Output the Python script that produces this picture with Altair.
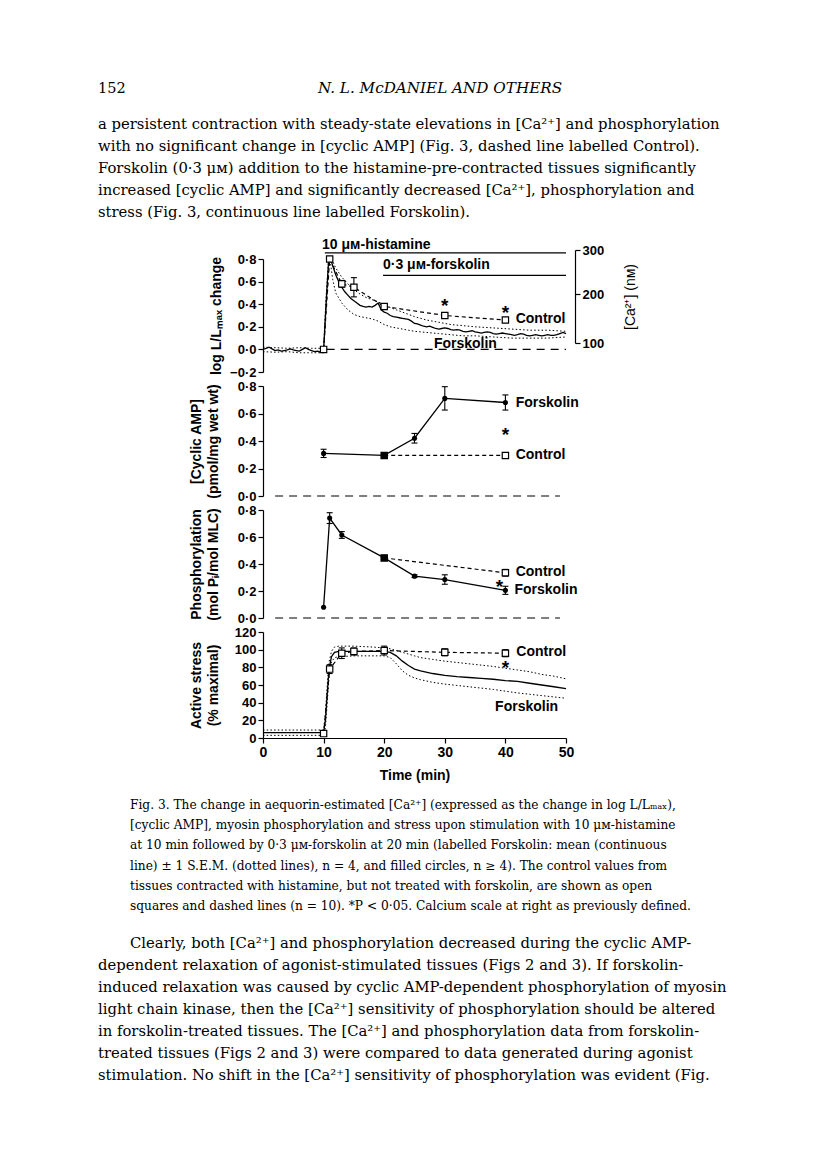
import altair as alt
import pandas as pd

# ------------------------------------------------------------------ data
time_ticks = [0, 10, 20, 30, 40, 50]

# Panel 1: aequorin light, log L/Lmax change (forskolin mean trace +/- SEM)
ca_t = [0, 0.5, 1, 1.5, 2, 2.5, 3, 3.5, 4, 4.5, 5, 5.5, 6, 6.5, 7, 7.5, 8, 8.5, 9, 9.5, 10,
        10.4, 10.8, 11.1,
        11.5, 12, 12.5, 13, 13.5, 14, 14.5, 15, 15.5, 16, 16.5, 17, 17.5, 18, 18.5, 19, 19.5,
        20, 20.5, 21, 21.5, 22, 22.5, 23, 23.5, 24, 24.5, 25, 25.5, 26, 26.5, 27, 27.5, 28, 28.5, 29, 29.5,
        30, 30.5, 31, 31.5, 32, 32.5, 33, 33.5, 34, 34.5, 35, 35.5, 36, 36.5, 37, 37.5, 38, 38.5, 39, 39.5,
        40, 40.5, 41, 41.5, 42, 42.5, 43, 43.5, 44, 44.5, 45, 45.5, 46, 46.5, 47, 47.5, 48, 48.5, 49, 49.5, 50]
ca_mean = [0.00, 0.01, 0.02, 0.005, -0.01, -0.005, -0.015, -0.01, -0.005, 0.005,
           -0.005, -0.01, -0.015, 0.0, 0.015, 0.0, -0.01, -0.02, -0.015, -0.025, -0.01,
           0.40, 0.76, 0.81,
           0.74, 0.66, 0.60, 0.55, 0.51, 0.48, 0.45, 0.43, 0.41, 0.39, 0.38, 0.375, 0.38, 0.375, 0.39, 0.41, 0.35,
           0.33, 0.32, 0.30, 0.29, 0.285, 0.28, 0.275, 0.27, 0.265, 0.25,
           0.23, 0.225, 0.215, 0.205, 0.20, 0.205, 0.195, 0.185, 0.18, 0.185,
           0.19, 0.185, 0.175, 0.17, 0.175, 0.17, 0.16, 0.155, 0.16, 0.165,
           0.155, 0.15, 0.145, 0.15, 0.155, 0.15, 0.14, 0.135, 0.14, 0.145,
           0.14, 0.135, 0.13, 0.125, 0.13, 0.14, 0.135, 0.125, 0.12, 0.125,
           0.13, 0.125, 0.12, 0.125, 0.13, 0.125, 0.125, 0.13, 0.14, 0.15, 0.14]
ca_sem_t = [0, 2, 4, 6, 8, 10, 10.4, 10.8, 11.1, 11.5, 12, 13, 14, 15, 16, 17, 18, 19, 20,
            21, 22, 23, 24, 25, 27, 29, 31, 33, 35, 38, 41, 44, 47, 50]
ca_sem_hi = [0.02, 0.015, 0.01, 0.015, 0.01, 0.01, 0.45, 0.79, 0.82, 0.78, 0.72, 0.64, 0.58, 0.53,
             0.49, 0.46, 0.44, 0.42, 0.40, 0.37, 0.35, 0.33, 0.31, 0.29, 0.26, 0.24, 0.22, 0.21,
             0.20, 0.19, 0.18, 0.17, 0.17, 0.16]
ca_sem_lo = [-0.02, -0.025, -0.02, -0.03, -0.03, -0.03, 0.35, 0.70, 0.78, 0.62, 0.50, 0.41, 0.35,
             0.31, 0.29, 0.28, 0.27, 0.25, 0.22, 0.20, 0.19, 0.18, 0.17, 0.16, 0.15, 0.14, 0.13,
             0.12, 0.12, 0.11, 0.10, 0.10, 0.10, 0.11]
ca_ctl_t = [10, 11, 13, 15, 20, 30, 40]
ca_ctl_v = [0.0, 0.8, 0.58, 0.55, 0.38, 0.30, 0.26]
ca_ctl_err = [0, 0, 0.03, 0.085, 0.015, 0, 0]
ca_star_t = [30, 40]
ca_star_v = [0.43, 0.37]
ca_nm_ticks = [100, 200, 300]

# Panel 2: [cyclic AMP] (pmol/mg wet wt)
cyc_fsk_t = [10, 20, 25, 30, 40]
cyc_fsk_v = [0.31, 0.295, 0.42, 0.71, 0.68]
cyc_fsk_err = [0.03, 0.01, 0.035, 0.085, 0.055]
cyc_ctl_t = [20, 40]
cyc_ctl_v = [0.295, 0.295]
cyc_star_t = [40]
cyc_star_v = [0.48]

# Panel 3: phosphorylation (mol Pi/mol MLC)
ph_fsk_t = [10, 11, 13, 20, 25, 30, 40]
ph_fsk_v = [0.08, 0.74, 0.615, 0.445, 0.31, 0.285, 0.205]
ph_fsk_err = [0, 0.04, 0.025, 0.01, 0.01, 0.035, 0.03]
ph_ctl_t = [20, 40]
ph_ctl_v = [0.445, 0.335]
ph_ctl_err = [0, 0.025]
ph_star_t = [39]
ph_star_v = [0.27]

# Panel 4: active stress (% maximal)
st_t = [0, 10, 10.3, 10.6, 10.9, 11.3, 11.8, 12.5, 15, 18, 20, 21, 22, 23, 24, 25, 26, 28, 30,
        32, 34, 36, 38, 40, 42, 44, 46, 48, 50]
st_mean = [6, 6, 20, 50, 78, 92, 97, 98, 98, 98, 98, 97, 93, 87, 82, 78, 76, 73, 71,
           69.5, 68.5, 67.5, 66.5, 65, 64, 62, 60, 58, 56]
st_hi = [9, 9, 28, 60, 86, 98, 103, 104, 104, 103, 102, 101, 99, 97, 95, 93, 91, 89, 87,
         85.5, 84, 82.5, 81, 79, 77, 75, 72, 70, 67]
st_lo = [3, 3, 12, 40, 70, 86, 91, 92, 93, 93, 93, 91, 84, 76, 71, 68, 66, 63, 61,
         59.5, 58, 56.5, 55, 53, 51, 49.5, 48, 46.5, 45]
st_ctl_t = [10, 11, 13, 15, 20, 30, 40]
st_ctl_v = [5, 78, 96, 98, 99, 97, 96]
st_ctl_err = [2, 5, 6, 4, 5, 4, 4]
st_star_t = [40]
st_star_v = [85]

# treatment bars (start, end, level) and curve labels
bar_t = [10.2, 19.8]
bar_t2 = [50, 50]
bar_v = [0.855, 0.655]
bar_text = ["10 μᴍ-histamine", "0·3 μᴍ-forskolin"]
bar_text_t = [9.75, 19.8]
bar_text_v = [0.92, 0.75]

lab1 = ["Control", "Forskolin"];  lab1_t = [41.7, 28.2]; lab1_v = [0.27, 0.05]
lab2 = ["Forskolin", "Control"];  lab2_t = [41.7, 41.7]; lab2_v = [0.68, 0.295]
lab3 = ["Control", "Forskolin"];  lab3_t = [41.7, 41.5]; lab3_v = [0.34, 0.205]
lab4 = ["Control", "Forskolin"];  lab4_t = [41.8, 38.3]; lab4_v = [97, 35]

# page text
header_num = "152"
header_title = "N. L. McDANIEL AND OTHERS"
para_top = [
    "a persistent contraction with steady-state elevations in [Ca²⁺] and phosphorylation",
    "with no significant change in [cyclic AMP] (Fig. 3, dashed line labelled Control).",
    "Forskolin (0·3 μᴍ) addition to the histamine-pre-contracted tissues significantly",
    "increased [cyclic AMP] and significantly decreased [Ca²⁺], phosphorylation and",
    "stress (Fig. 3, continuous line labelled Forskolin).",
]
caption = [
    "Fig. 3. The change in aequorin-estimated [Ca²⁺] (expressed as the change in log L/Lₘₐₓ),",
    "[cyclic AMP], myosin phosphorylation and stress upon stimulation with 10 μᴍ-histamine",
    "at 10 min followed by 0·3 μᴍ-forskolin at 20 min (labelled Forskolin: mean (continuous",
    "line) ± 1 S.E.M. (dotted lines), n = 4, and filled circles, n ≥ 4). The control values from",
    "tissues contracted with histamine, but not treated with forskolin, are shown as open",
    "squares and dashed lines (n = 10). *P < 0·05. Calcium scale at right as previously defined.",
]
para_bottom_first = "Clearly, both [Ca²⁺] and phosphorylation decreased during the cyclic AMP-"
para_bottom = [
    "dependent relaxation of agonist-stimulated tissues (Figs 2 and 3). If forskolin-",
    "induced relaxation was caused by cyclic AMP-dependent phosphorylation of myosin",
    "light chain kinase, then the [Ca²⁺] sensitivity of phosphorylation should be altered",
    "in forskolin-treated tissues. The [Ca²⁺] and phosphorylation data from forskolin-",
    "treated tissues (Figs 2 and 3) were compared to data generated during agonist",
    "stimulation. No shift in the [Ca²⁺] sensitivity of phosphorylation was evident (Fig.",
]

# ------------------------------------------------------------------ helpers
BLACK = "black"
SANS = "Liberation Sans"
SERIF = "DejaVu Serif"
W = 303
DEC = "replace(format(datum.value, '.1f'), '.', '·')"
ONE = pd.DataFrame({"k": [0]})
BODY = 14.8
CAP = 12.2


def frame(**cols):
    return pd.DataFrame(cols)


def encoders(y_domain, y_axis, x_axis=None):
    xs = alt.Scale(domain=[0, 50], nice=False, zero=False)
    ys = alt.Scale(domain=y_domain, nice=False, zero=False)

    def X(f):
        return alt.X(f"{f}:Q", scale=xs, axis=x_axis)

    def Y(f):
        return alt.Y(f"{f}:Q", scale=ys, axis=y_axis)
    return X, Y


def trace(t, v, X, Y, **style):
    return alt.Chart(frame(t=t, v=v)).mark_line(color=BLACK, **style).encode(x=X("t"), y=Y("v"))


def squares(t, v, X, Y, fill="white"):
    return alt.Chart(frame(t=t, v=v)).mark_point(
        shape="square", filled=True, fill=fill, stroke=BLACK, strokeWidth=1.2, size=40, opacity=1
    ).encode(x=X("t"), y=Y("v"))


def dots(t, v, X, Y):
    return alt.Chart(frame(t=t, v=v)).mark_circle(color=BLACK, size=26, opacity=1).encode(x=X("t"), y=Y("v"))


def errbars(t, v, err, X, Y):
    d = frame(t=t, v=v, err=err)
    d = d[d.err > 0].copy()
    d["lo"] = d.v - d.err
    d["hi"] = d.v + d.err
    rule = alt.Chart(d).mark_rule(color=BLACK, strokeWidth=1.1).encode(x=X("t"), y=Y("lo"), y2=alt.Y2("hi"))
    caps = [alt.Chart(d).mark_tick(orient="horizontal", size=6, thickness=1.1, color=BLACK, opacity=1)
            .encode(x=X("t"), y=Y(c)) for c in ("lo", "hi")]
    return [rule] + caps


def hrule(t, t2, v, X, Y, dash):
    return alt.Chart(frame(t=t, t2=t2, v=v)).mark_rule(color=BLACK, strokeWidth=1.2, strokeDash=dash).encode(
        x=X("t"), x2=alt.X2("t2"), y=Y("v"))


def labels(texts, t, v, X, Y):
    return alt.Chart(frame(label=texts, t=t, v=v)).mark_text(
        align="left", baseline="middle", font=SANS, fontSize=14, fontWeight="bold", color=BLACK
    ).encode(x=X("t"), y=Y("v"), text="label:N")


def stars(t, v, X, Y):
    return alt.Chart(frame(t=t, v=v)).mark_text(
        text="*", align="center", baseline="middle", dy=5, font=SANS, fontSize=19, fontWeight="bold", color=BLACK
    ).encode(x=X("t"), y=Y("v"))


def block(text, x, y, size, lh, italic=False, align="left"):
    return alt.Chart(ONE).mark_text(
        align=align, baseline="alphabetic", font=SERIF, fontSize=size, lineHeight=lh, lineBreak="\n",
        fontStyle="italic" if italic else "normal", color=BLACK
    ).encode(x=alt.value(x), y=alt.value(y), text=alt.value(text))


def yaxis(values, title, pad, dec=True):
    kw = dict(values=values, title=title, titlePadding=pad, titleLineHeight=17)
    if dec:
        kw["labelExpr"] = DEC
    else:
        kw["format"] = "d"
    return alt.Axis(**kw)


DOTTED = dict(strokeDash=[1.5, 2.2], strokeWidth=1)
DASHED = dict(strokeDash=[4, 3], strokeWidth=1.2)
BASE = [8, 6]

# ------------------------------------------------------------------ panel 1
X1, Y1 = encoders([-0.2, 0.8], yaxis([-0.2, 0, 0.2, 0.4, 0.6, 0.8], "log L/Lₘₐₓ change", 6))
p1_layers = [
    hrule([10.5], [50], [0], X1, Y1, BASE),
    trace(ca_sem_t, ca_sem_hi, X1, Y1, **DOTTED),
    trace(ca_sem_t, ca_sem_lo, X1, Y1, **DOTTED),
    trace(ca_t, ca_mean, X1, Y1, strokeWidth=1.3),
    trace(ca_ctl_t, ca_ctl_v, X1, Y1, **DASHED),
    *errbars(ca_ctl_t, ca_ctl_v, ca_ctl_err, X1, Y1),
    squares(ca_ctl_t, ca_ctl_v, X1, Y1),
    alt.Chart(frame(t=bar_t, t2=bar_t2, v=bar_v)).mark_rule(color=BLACK, strokeWidth=1.3).encode(
        x=X1("t"), x2=alt.X2("t2"), y=Y1("v")),
    labels(bar_text, bar_text_t, bar_text_v, X1, Y1),
    labels(lab1, lab1_t, lab1_v, X1, Y1),
    stars(ca_star_t, ca_star_v, X1, Y1),
    # page text (positions relative to this panel's plot origin)
    block(header_num, -165, -166, 14.5, 18),
    block(header_title, 177, -166, 15.2, 18, italic=True, align="center"),
    block("\n".join(para_top), -165, -130, BODY, 22),
    block("\n".join(caption), -133, 550, CAP, 20.2),
    block(para_bottom_first, -133, 689, BODY, 22),
    block("\n".join(para_bottom), -165, 711, BODY, 22),
]
ca_axis = alt.Axis(orient="right", values=ca_nm_ticks, format="d", title="[Ca²⁺] (nᴍ)",
                   titleAngle=270, titleBaseline="top", titlePadding=20, offset=9,
                   titleFontWeight="normal")
ca_layer = alt.Chart(frame(nm=ca_nm_ticks)).mark_point(opacity=0).encode(
    y=alt.Y("nm:Q", scale=alt.Scale(domain=[100, 200, 300], range=[84, 35, -9], zero=False, nice=False),
            axis=ca_axis))
p1 = alt.layer(alt.layer(*p1_layers), ca_layer).resolve_scale(y="independent").properties(width=W, height=113)

# ------------------------------------------------------------------ panel 2
X2, Y2 = encoders([0, 0.8], yaxis([0, 0.2, 0.4, 0.6, 0.8], ["[Cyclic AMP]", "(pmol/mg wet wt)"], 17))
c_df = frame(t=cyc_fsk_t, v=cyc_fsk_v)
p2 = alt.layer(
    hrule([2], [49], [0], X2, Y2, BASE),
    trace(cyc_ctl_t, cyc_ctl_v, X2, Y2, **DASHED),
    trace(cyc_fsk_t, cyc_fsk_v, X2, Y2, strokeWidth=1.3),
    *errbars(cyc_fsk_t, cyc_fsk_v, cyc_fsk_err, X2, Y2),
    squares(cyc_ctl_t[1:], cyc_ctl_v[1:], X2, Y2),
    dots(c_df[c_df.t != 20].t.tolist(), c_df[c_df.t != 20].v.tolist(), X2, Y2),
    squares(c_df[c_df.t == 20].t.tolist(), c_df[c_df.t == 20].v.tolist(), X2, Y2, fill=BLACK),
    labels(lab2, lab2_t, lab2_v, X2, Y2),
    stars(cyc_star_t, cyc_star_v, X2, Y2),
).properties(width=W, height=110)

# ------------------------------------------------------------------ panel 3
X3, Y3 = encoders([0, 0.8], yaxis([0, 0.2, 0.4, 0.6, 0.8], ["Phosphorylation", "(mol Pᵢ/mol MLC)"], 17))
p_df = frame(t=ph_fsk_t, v=ph_fsk_v)
p3 = alt.layer(
    hrule([2], [49], [0], X3, Y3, BASE),
    trace(ph_ctl_t, ph_ctl_v, X3, Y3, **DASHED),
    trace(ph_fsk_t, ph_fsk_v, X3, Y3, strokeWidth=1.3),
    *errbars(ph_fsk_t, ph_fsk_v, ph_fsk_err, X3, Y3),
    *errbars(ph_ctl_t, ph_ctl_v, ph_ctl_err, X3, Y3),
    squares(ph_ctl_t[1:], ph_ctl_v[1:], X3, Y3),
    dots(p_df[p_df.t != 20].t.tolist(), p_df[p_df.t != 20].v.tolist(), X3, Y3),
    squares(p_df[p_df.t == 20].t.tolist(), p_df[p_df.t == 20].v.tolist(), X3, Y3, fill=BLACK),
    labels(lab3, lab3_t, lab3_v, X3, Y3),
    stars(ph_star_t, ph_star_v, X3, Y3),
).properties(width=W, height=108)

# ------------------------------------------------------------------ panel 4
x4_axis = alt.Axis(values=time_ticks, format="d", title="Time (min)", titlePadding=9, labelFlush=False,
                   labelFontSize=14)
X4, Y4 = encoders([0, 120], yaxis([0, 20, 40, 60, 80, 100, 120], ["Active stress", "(% maximal)"], 14, dec=False),
                  x_axis=x4_axis)
p4 = alt.layer(
    trace(st_t, st_hi, X4, Y4, **DOTTED),
    trace(st_t, st_lo, X4, Y4, **DOTTED),
    trace(st_t, st_mean, X4, Y4, strokeWidth=1.3),
    trace(st_ctl_t, st_ctl_v, X4, Y4, **DASHED),
    *errbars(st_ctl_t, st_ctl_v, st_ctl_err, X4, Y4),
    squares(st_ctl_t, st_ctl_v, X4, Y4),
    labels(lab4, lab4_t, lab4_v, X4, Y4),
    stars(st_star_t, st_star_v, X4, Y4),
).properties(width=W, height=106)

chart = alt.vconcat(p1, p2, p3, p4, spacing=14, bounds="flush").configure_axis(
    grid=False, domainColor=BLACK, domainWidth=1.2, tickColor=BLACK, tickWidth=1.2, tickSize=5,
    labelColor=BLACK, titleColor=BLACK, labelFont=SANS, titleFont=SANS, labelFontSize=13,
    titleFontSize=14, labelFontWeight="bold", titleFontWeight="bold", labelPadding=2,
).configure_view(stroke=None).properties(
    padding={"left": 90, "top": 73, "right": 5, "bottom": 5}, background="white"
)

chart.save("out.html", embed_options={"renderer": "svg", "actions": False})
